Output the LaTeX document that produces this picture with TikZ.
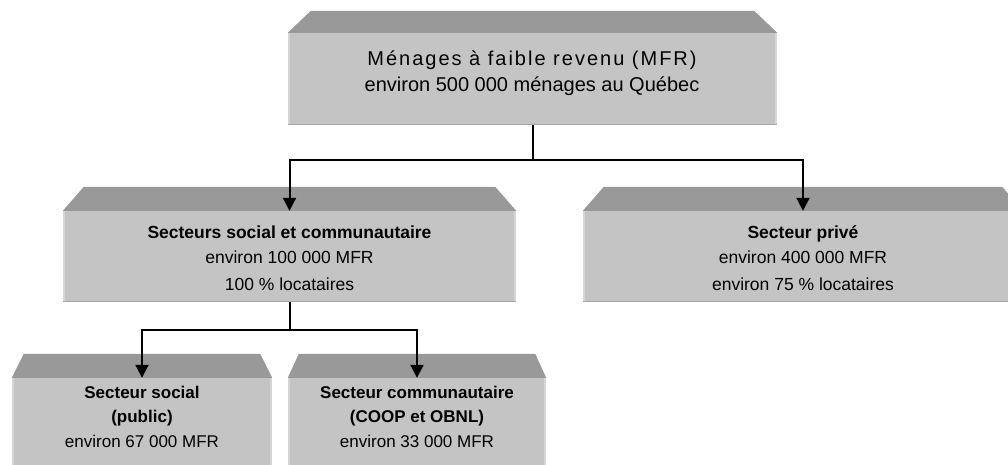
\documentclass[tikz,border=0pt]{standalone}
\usepackage{fontspec}
\setmainfont{Liberation Sans}
\newfontfamily\spacedfont{Liberation Sans}[LetterSpace=10]
\usetikzlibrary{arrows.meta}
\definecolor{frontc}{HTML}{C4C4C4}
\definecolor{topc}{HTML}{999999}
\definecolor{lightedge}{HTML}{D6D6D6}
\definecolor{darkedge}{HTML}{A6A6A6}
\newcommand\slabtop[3]{%
  \fill[topc] (#1.north west) -- ++(#2,-#3) -- ([shift={(-#2,-#3)}]#1.north east) -- (#1.north east) -- cycle;
  \draw[lightedge, line width=2pt] ([xshift=1pt]#1.north west) -- ([xshift=1pt]#1.south west);
  \draw[lightedge, line width=2pt] ([xshift=-1pt]#1.north east) -- ([xshift=-1pt]#1.south east);
  \draw[darkedge, line width=1.5pt] ([yshift=0.75pt]#1.south west) -- ([yshift=0.75pt]#1.south east);
}
\begin{document}
\begin{tikzpicture}[x=1pt,y=-1pt,
  front/.style={rectangle, draw=none, fill=frontc, inner sep=0pt},
  lbl/.style={anchor=base, inner sep=0pt, font=\fontsize{17.5}{21}\selectfont},
  lblb/.style={lbl, font=\fontsize{17.5}{21}\selectfont\bfseries},
  sml/.style={anchor=base, inner sep=0pt, font=\fontsize{17}{20}\selectfont},
  smlb/.style={sml, font=\fontsize{17}{20}\selectfont\bfseries},
  wire/.style={line width=2pt},
  conn/.style={line width=2pt, -{Triangle[length=13pt,width=13pt]}}]
\useasboundingbox (0,0) rectangle (1008,464);
\clip (0,0) rectangle (1008,464);
\fill[white] (0,0) rectangle (1008,464);

% boxes (front faces)
\node[front, minimum width=489pt, minimum height=92pt] (top) at (532.5,79) {};
\node[front, minimum width=453pt, minimum height=91pt] (ml) at (289.5,256.5) {};
\node[front, minimum width=440pt, minimum height=91pt] (mr) at (803,256.5) {};
\node[front, minimum width=260pt, minimum height=100pt] (bl) at (142,428) {};
\node[front, minimum width=258pt, minimum height=100pt] (br) at (417,428) {};

\slabtop{top}{23}{22}
\slabtop{ml}{21}{24}
\slabtop{mr}{21}{24}
\slabtop{bl}{12}{24}
\slabtop{br}{11}{24}

% texts
\node[anchor=base, inner sep=0pt, font=\fontsize{20}{24}\selectfont\spacedfont] (t1) at (532,65) {Ménages à faible revenu (MFR)};
\node[anchor=base, inner sep=0pt, font=\fontsize{20}{24}\selectfont] (t2) at (532,91) {environ 500 000 ménages au Québec};

\node[lblb] (ml1) at (289.5,238) {Secteurs social et communautaire};
\node[lbl] (ml2) at (289.5,263) {environ 100 000 MFR};
\node[lbl] (ml3) at (289.5,290) {100 \% locataires};

\node[lblb] (mr1) at (803,238) {Secteur privé};
\node[lbl] (mr2) at (803,263) {environ 400 000 MFR};
\node[lbl] (mr3) at (803,290) {environ 75 \% locataires};

\node[smlb] (bl1) at (142,398) {Secteur social};
\node[smlb] (bl2) at (142,422) {(public)};
\node[sml] (bl3) at (142,447) {environ 67 000 MFR};

\node[smlb] (br1) at (417,398) {Secteur communautaire};
\node[smlb] (br2) at (417,422) {(COOP et OBNL)};
\node[sml] (br3) at (417,447) {environ 33 000 MFR};

% connectors
\coordinate (bus1) at (532.5,160);
\coordinate (bus2) at (289.5,330);
\draw[wire] (top.south) -- (bus1);
\draw[conn] (bus1) -| (ml.north);
\draw[conn] (bus1) -| (mr.north);
\draw[wire] (ml.south) -- (bus2);
\draw[conn] (bus2) -| (bl.north);
\draw[conn] (bus2) -| (br.north);
\end{tikzpicture}
\end{document}
